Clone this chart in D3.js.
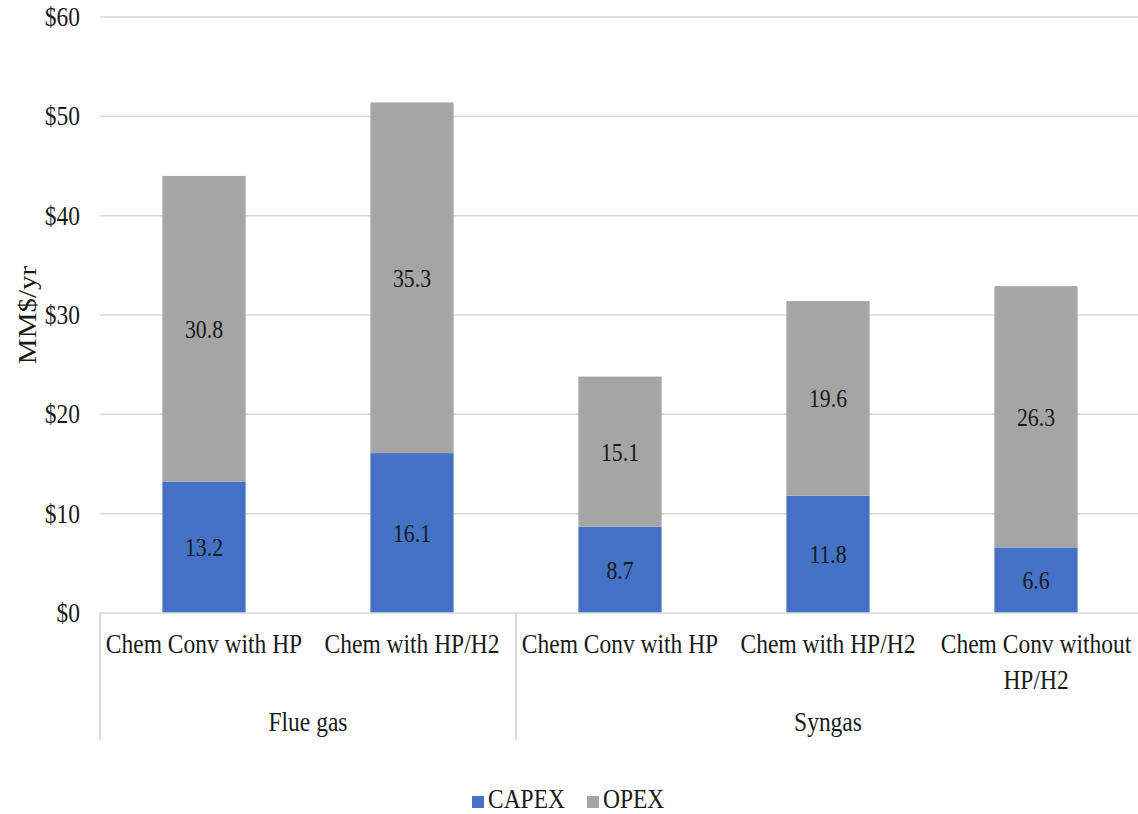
<!DOCTYPE html>
<html>
<head>
<meta charset="utf-8">
<script src="https://cdn.jsdelivr.net/npm/d3@7"></script>
<style>
  html, body { margin: 0; padding: 0; background: #fff; }
  svg { display: block; }
  text { font-family: "Liberation Serif", "Times New Roman", serif; fill: #1a1a1a; }
</style>
</head>
<body>
<svg id="chart" width="1138" height="814"></svg>
<script>
// ---- Data ----
const categories = ["Chem Conv with HP", "Chem with HP/H2", "Chem Conv with HP", "Chem with HP/H2", "Chem Conv without HP/H2"];
const categoryLines = [["Chem Conv with HP"], ["Chem with HP/H2"], ["Chem Conv with HP"], ["Chem with HP/H2"], ["Chem Conv without", "HP/H2"]];
const groups = ["Flue gas", "Syngas"];
const groupSizes = [2, 3];
const capex = [13.2, 16.1, 8.7, 11.8, 6.6];
const opex = [30.8, 35.3, 15.1, 19.6, 26.3];
const seriesNames = ["CAPEX", "OPEX"];
const seriesColors = ["#4472C4", "#A5A5A5"];
const yTicks = [0, 10, 20, 30, 40, 50, 60];
const yTitle = "MM$/yr";

(function () {
// ---- Layout ----
const svg = d3.select("#chart");
const pLeft = 100, pRight = 1140, pTop = 17, pBottom = 613;
const SX = 0.87; // horizontal squeeze of text seen in reference

const keys = categories.map((c, i) => i);
const x = d3.scaleBand().domain(keys).range([pLeft, pRight]).paddingInner(0.6).paddingOuter(0.3);
const y = d3.scaleLinear().domain([0, 60]).range([pBottom, pTop]);

function sText(g, tx, ty, str, size, anchor) {
  return g.append("text")
    .attr("transform", `translate(${tx},${ty}) scale(${SX},1)`)
    .attr("text-anchor", anchor || "middle")
    .style("font-size", size + "px")
    .text(str);
}

// Gridlines
svg.append("g").selectAll("line").data(yTicks.filter(t => t > 0)).join("line")
  .attr("x1", pLeft).attr("x2", pRight)
  .attr("y1", d => y(d)).attr("y2", d => y(d))
  .attr("stroke", "#D9D9D9").attr("stroke-width", 1.5);

// Y tick labels
const yAxisG = svg.append("g");
yTicks.forEach(t => {
  sText(yAxisG, 80, y(t) + 9, "$" + t, 27, "end");
});

// Y title
svg.append("text")
  .attr("transform", `translate(36,315) scale(${SX},1) rotate(-90)`)
  .attr("text-anchor", "middle")
  .style("font-size", "29px")
  .text(yTitle);

// Stacked data
const rows = keys.map(i => ({ i, CAPEX: capex[i], OPEX: opex[i] }));
const stack = d3.stack().keys(seriesNames)(rows);

const barsG = svg.append("g");
stack.forEach((layer, li) => {
  barsG.append("g").attr("fill", seriesColors[li])
    .selectAll("rect").data(layer).join("rect")
    .attr("x", d => x(d.data.i))
    .attr("width", x.bandwidth())
    .attr("y", d => y(d[1]))
    .attr("height", d => y(d[0]) - y(d[1]));
});

// Data labels
const labG = svg.append("g");
stack.forEach((layer, li) => {
  layer.forEach(d => {
    const v = d.data[seriesNames[li]];
    sText(labG, x(d.data.i) + x.bandwidth() / 2, y((d[0] + d[1]) / 2) + 9, v.toFixed(1), 25, "middle");
  });
});

// Category axis line
svg.append("line").attr("x1", pLeft).attr("x2", pRight).attr("y1", pBottom).attr("y2", pBottom)
  .attr("stroke", "#D9D9D9").attr("stroke-width", 1.5);

// Category labels
const catG = svg.append("g");
categoryLines.forEach((lines, i) => {
  lines.forEach((ln, k) => {
    sText(catG, x(i) + x.bandwidth() / 2, 653 + k * 36, ln, 27, "middle");
  });
});

// Group separators & labels
const step = x.step();
let start = pLeft;
const sepXs = [pLeft];
groups.forEach((g, gi) => {
  const end = start + groupSizes[gi] * step;
  sText(svg, (start + end) / 2, 731, g, 27, "middle");
  sepXs.push(end);
  start = end;
});
svg.append("g").selectAll("line").data(sepXs).join("line")
  .attr("x1", d => d).attr("x2", d => d)
  .attr("y1", pBottom).attr("y2", 740)
  .attr("stroke", "#D0D0D0").attr("stroke-width", 1.5);

// Legend
const legend = svg.append("g");
const legX = [472, 587];
seriesNames.forEach((n, i) => {
  legend.append("rect").attr("x", legX[i]).attr("y", 796).attr("width", 12).attr("height", 12)
    .attr("fill", seriesColors[i]);
  sText(legend, legX[i] + 16, 808, n, 27, "start");
});
})();
</script>
</body>
</html>
